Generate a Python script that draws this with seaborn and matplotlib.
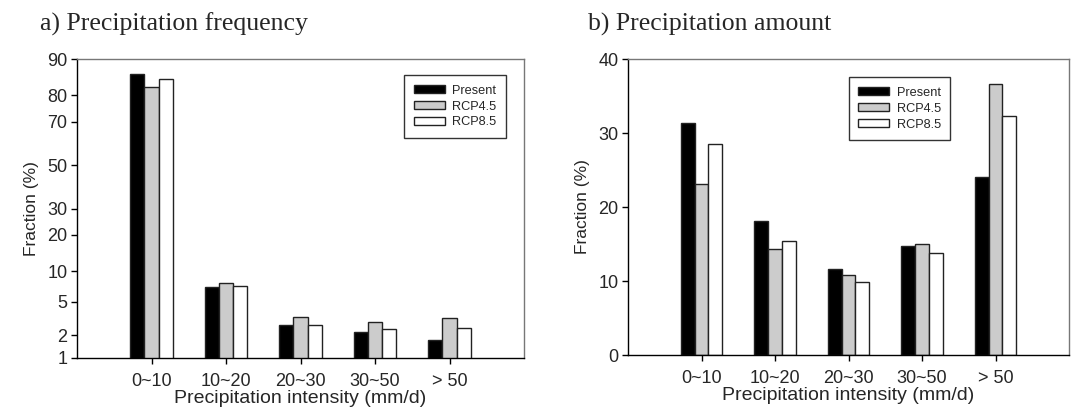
import numpy as np
import pandas as pd
import matplotlib
matplotlib.use("Agg")
import matplotlib.pyplot as plt
import seaborn as sns
from matplotlib.ticker import FixedLocator, FixedFormatter, NullLocator
from statistics import NormalDist

# data
categories = ["0~10", "10~20", "20~30", "30~50", "> 50"]
scenarios = ["Present", "RCP4.5", "RCP8.5"]

freq_present = [86.4, 7.15, 2.7, 2.19, 1.76]
freq_rcp45 = [82.7, 7.8, 3.33, 2.96, 3.3]
freq_rcp85 = [85.2, 7.3, 2.7, 2.41, 2.49]

amt_present = [31.35, 18.1, 11.6, 14.73, 24.1]
amt_rcp45 = [23.15, 14.28, 10.77, 15.04, 36.6]
amt_rcp85 = [28.47, 15.36, 9.82, 13.74, 32.3]

freq_ticks = [1, 2, 5, 10, 20, 30, 50, 70, 80, 90]
colors = ["#000000", "#cccccc", "#ffffff"]

sns.set_theme(style="white")
plt.rcParams["font.family"] = ["Liberation Sans", "DejaVu Sans"]


def long_table(a, b, c):
    rows = []
    for s, vals in zip(scenarios, [a, b, c]):
        for cat, v in zip(categories, vals):
            rows.append({"cat": cat, "scenario": s, "value": v})
    return pd.DataFrame(rows)


# probability (normal quantile) scale, values in percent
_nd = NormalDist()


def _ppf(v):
    if not np.isfinite(v):
        return np.nan
    p = min(max(v / 100.0, 1e-7), 1 - 1e-7)
    return _nd.inv_cdf(p)


def _cdf(z):
    if not np.isfinite(z):
        return np.nan
    return _nd.cdf(z) * 100.0


fwd = np.vectorize(_ppf, otypes=[float])
inv = np.vectorize(_cdf, otypes=[float])

fig = plt.figure(figsize=(10.74, 4.18), dpi=100)
W, H = 1074, 418
ax1 = fig.add_axes([77 / W, 1 - 358 / H, (524 - 77) / W, (358 - 59) / H])
ax2 = fig.add_axes([628 / W, 1 - 355 / H, (1069 - 628) / W, (355 - 59) / H])

df1 = long_table(freq_present, freq_rcp45, freq_rcp85)
df2 = long_table(amt_present, amt_rcp45, amt_rcp85)

for ax, df in [(ax1, df1), (ax2, df2)]:
    sns.barplot(data=df, x="cat", y="value", hue="scenario", palette=colors,
                width=0.57, gap=0, edgecolor="#222222", linewidth=1.0,
                saturation=1, ax=ax, errorbar=None)

ax1.set_yscale("function", functions=(fwd, inv))
ax1.set_ylim(1, 90)
ax1.yaxis.set_major_locator(FixedLocator(freq_ticks))
ax1.yaxis.set_major_formatter(FixedFormatter([str(t) for t in freq_ticks]))
ax1.yaxis.set_minor_locator(NullLocator())

ax2.set_ylim(0, 40)
ax2.set_yticks([0, 10, 20, 30, 40])

titles = ["a) Precipitation frequency", "b) Precipitation amount"]
title_x = [40 / W, 588 / W]
for ax, t, tx in zip([ax1, ax2], titles, title_x):
    fig.text(tx, 1 - 31 / H, t, family=["Liberation Serif", "DejaVu Serif"],
             fontsize=18.5, ha="left", va="baseline")
    ax.set_xlim(-1, 5)
    ax.set_xlabel("Precipitation intensity (mm/d)", fontsize=14, labelpad=0)
    ax.set_ylabel("Fraction (%)", fontsize=12.5, labelpad=6)
    ax.tick_params(axis="both", which="major", direction="out", length=4,
                   width=1, color="black", labelsize=13, pad=3,
                   bottom=True, left=True, top=False, right=False)
    ax.tick_params(axis="x", pad=7)
    for side in ["left", "bottom"]:
        ax.spines[side].set_color("black")
        ax.spines[side].set_linewidth(1)
    for side in ["top", "right"]:
        ax.spines[side].set_color("#777777")
        ax.spines[side].set_linewidth(1)

leg_pos = [(0.96, 0.946), (0.731, 0.938)]
for ax, pos in zip([ax1, ax2], leg_pos):
    handles, labels = ax.get_legend_handles_labels()
    leg = ax.legend(handles, labels, loc="upper right", bbox_to_anchor=pos,
                    borderaxespad=0, frameon=True, fancybox=False,
                    edgecolor="black", fontsize=9.2, handlelength=2.4,
                    handleheight=0.6, labelspacing=0.3, borderpad=0.75,
                    handletextpad=0.6)
    leg.get_frame().set_linewidth(1)

fig.savefig("out.png", dpi=100)
